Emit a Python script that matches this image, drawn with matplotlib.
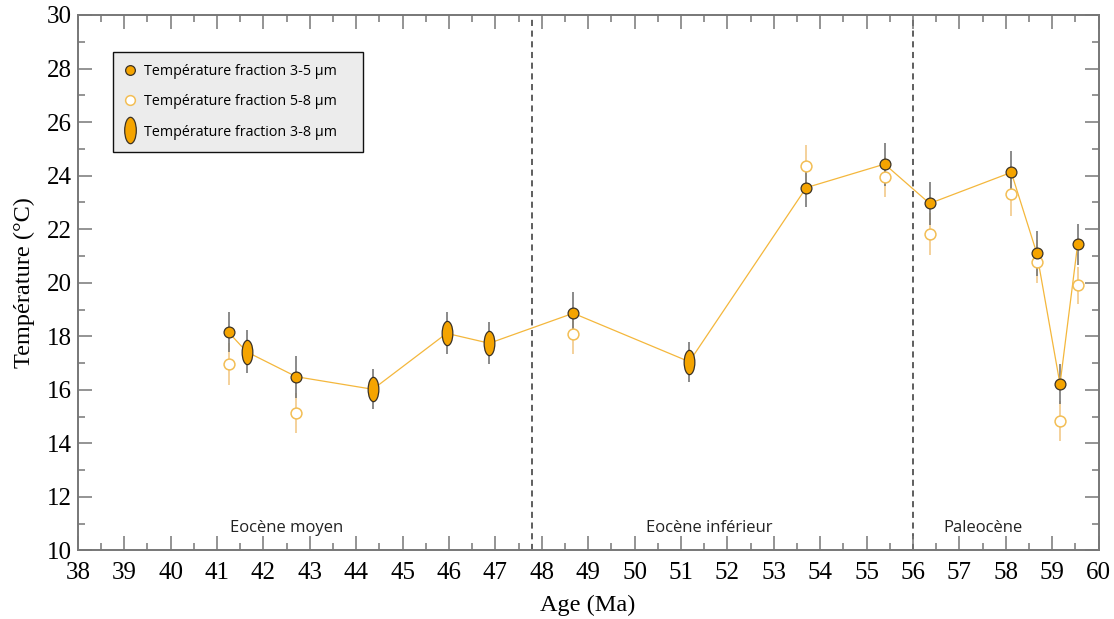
import matplotlib
matplotlib.use("Agg")
import matplotlib.pyplot as plt
from matplotlib.path import Path
from matplotlib.transforms import Affine2D
from matplotlib.lines import Line2D
from matplotlib.ticker import MultipleLocator

# ---- data ----
age_35 = [41.25, 42.71, 48.68, 53.70, 55.39, 56.36, 58.12, 58.67, 59.17, 59.55]
temp_35 = [18.15, 16.49, 18.86, 23.55, 24.43, 22.96, 24.12, 21.10, 16.21, 21.43]
err_35 = [0.75, 0.78, 0.80, 0.72, 0.80, 0.80, 0.80, 0.84, 0.75, 0.76]

age_58 = [41.25, 42.71, 48.68, 53.70, 55.39, 56.36, 58.12, 58.67, 59.17, 59.55]
temp_58 = [16.96, 15.12, 18.08, 24.37, 23.94, 21.81, 23.31, 20.78, 14.84, 19.90]
err_58 = [0.78, 0.75, 0.74, 0.78, 0.75, 0.78, 0.80, 0.80, 0.75, 0.70]

age_38 = [41.64, 44.36, 45.95, 46.87, 51.18]
temp_38 = [17.42, 16.02, 18.11, 17.74, 17.05]
err_38 = [0.80, 0.75, 0.78, 0.78, 0.74]

boundaries = [47.8, 56.0]
epoch_labels = ["Eocène moyen", "Eocène inférieur", "Paleocène"]
epoch_x = [42.5, 51.6, 57.5]
legend_labels = ["Température fraction 3-5 µm",
                 "Température fraction 5-8 µm",
                 "Température fraction 3-8 µm"]

# ---- style ----
fill = "#F5A400"
edge = "#3b3225"
line_c = "#F4B73C"
open_c = "#F3BE55"
err_dark = "#777777"
err_light = "#F2C98A"
spine_c = "#777777"

serif = ["Liberation Serif", "DejaVu Serif"]
sans = ["Open Sans", "DejaVu Sans"]

ellipse = Path.unit_circle().transformed(Affine2D().scale(0.44, 1.0))

fig = plt.figure(figsize=(11.14, 6.19), dpi=100)
ax = fig.add_axes([0.0698, 0.1107, 0.9163, 0.8651])

# connecting line through 3-5 and 3-8 series
comb = sorted(list(zip(age_35, temp_35)) + list(zip(age_38, temp_38)))
ax.plot([a for a, _ in comb], [t for _, t in comb], color=line_c, lw=0.9, zorder=2)

# error bars
ax.errorbar(age_58, temp_58, yerr=err_58, fmt="none", ecolor=err_light, elinewidth=1.2, zorder=1)
ax.errorbar(age_35, temp_35, yerr=err_35, fmt="none", ecolor=err_dark, elinewidth=1.2, zorder=1.5)
ax.errorbar(age_38, temp_38, yerr=err_38, fmt="none", ecolor=err_dark, elinewidth=1.2, zorder=1.5)

# markers
ax.plot(age_58, temp_58, ls="none", marker="o", ms=7.8, mfc="white", mec=open_c, mew=1.1, zorder=3)
ax.plot(age_35, temp_35, ls="none", marker="o", ms=7.8, mfc=fill, mec=edge, mew=0.9, zorder=4)
ax.plot(age_38, temp_38, ls="none", marker=ellipse, ms=17.5, mfc=fill, mec=edge, mew=0.9, zorder=4)

for b in boundaries:
    ax.axvline(b, color="#333333", lw=1.1, ls=(0, (4, 3)), zorder=0.5)

for lab, x in zip(epoch_labels, epoch_x):
    ax.text(x, 10.85, lab, ha="center", va="center", fontsize=12, family=sans, color="#222222")

ax.set_xlim(38, 60)
ax.set_ylim(10, 30)
ax.xaxis.set_major_locator(MultipleLocator(1))
ax.xaxis.set_minor_locator(MultipleLocator(0.5))
ax.yaxis.set_major_locator(MultipleLocator(2))
ax.yaxis.set_minor_locator(MultipleLocator(1))
ax.tick_params(which="both", direction="in", top=True, right=True, color=spine_c, width=1.1)
ax.tick_params(which="major", length=10, labelsize=18)
ax.tick_params(which="minor", length=5)
ax.tick_params(axis="x", which="major", pad=8)
ax.tick_params(axis="y", which="major", pad=4)
for lbl in ax.get_xticklabels() + ax.get_yticklabels():
    lbl.set_family(serif)
for s in ax.spines.values():
    s.set_color(spine_c)
    s.set_linewidth(1.4)

ax.set_xlabel("Age (Ma)", fontsize=17.5, family=serif, labelpad=8)
ax.set_ylabel("Température (°C)", fontsize=17.5, family=serif, labelpad=9)

handles = [
    Line2D([], [], ls="none", marker="o", ms=7.0, mfc=fill, mec=edge, mew=0.9),
    Line2D([], [], ls="none", marker="o", ms=7.0, mfc="white", mec=open_c, mew=1.1),
    Line2D([], [], ls="none", marker=ellipse, ms=19, mfc=fill, mec=edge, mew=0.9),
]
leg = ax.legend(handles, legend_labels, loc="upper left",
                bbox_to_anchor=(0.0346, 0.0, 0.2447, 0.9303), mode="expand",
                prop={"family": sans, "size": 10.3}, frameon=True, fancybox=False,
                facecolor="#ECECEC", edgecolor="#111111", framealpha=1,
                handlelength=0.7, handletextpad=0.63, labelspacing=1.05,
                borderpad=0.85, borderaxespad=0)
leg.get_frame().set_linewidth(1.0)

fig.savefig("out.png", dpi=100)
